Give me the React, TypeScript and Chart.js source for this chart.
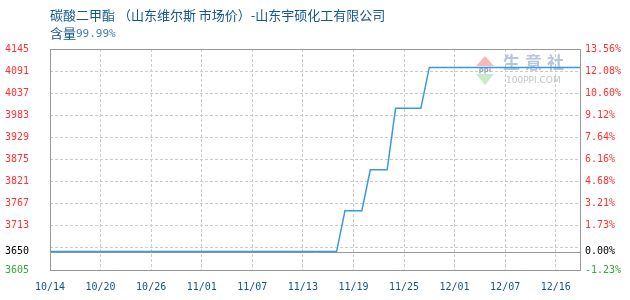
import React, { useEffect, useRef } from "react";
import { Chart, registerables } from "chart.js";

Chart.register(...registerables);

// Trading dates (category axis; some December days have no quote)
const dates: string[] = [
  "10/14", "10/15", "10/16", "10/17", "10/18", "10/19", "10/20", "10/21", "10/22", "10/23",
  "10/24", "10/25", "10/26", "10/27", "10/28", "10/29", "10/30", "10/31",
  "11/01", "11/02", "11/03", "11/04", "11/05", "11/06", "11/07", "11/08", "11/09", "11/10",
  "11/11", "11/12", "11/13", "11/14", "11/15", "11/16", "11/17", "11/18", "11/19", "11/20",
  "11/21", "11/22", "11/23", "11/24", "11/25", "11/26", "11/27", "11/28", "11/29", "11/30",
  "12/01", "12/02", "12/03", "12/04", "12/05", "12/06", "12/07", "12/08", "12/09", "12/12",
  "12/13", "12/14", "12/16", "12/17", "12/18", "12/19",
];

// Market price, yuan/ton
const prices: number[] = [
  3650, 3650, 3650, 3650, 3650, 3650, 3650, 3650, 3650, 3650,
  3650, 3650, 3650, 3650, 3650, 3650, 3650, 3650,
  3650, 3650, 3650, 3650, 3650, 3650, 3650, 3650, 3650, 3650,
  3650, 3650, 3650, 3650, 3650, 3650, 3650, 3750, 3750, 3750,
  3850, 3850, 3850, 4000, 4000, 4000, 4000, 4100, 4100, 4100,
  4100, 4100, 4100, 4100, 4100, 4100, 4100, 4100, 4100, 4100,
  4100, 4100, 4100, 4100, 4100, 4100,
];

// Price axis
const basePrice = 3650;
const yMin = 3605;
const yMax = 4145;
const priceTicks: number[] = [3605, 3650, 3713, 3767, 3821, 3875, 3929, 3983, 4037, 4091, 4145];
const gridOnlyTicks: number[] = [3659];
const labelEvery = 6;

const titleMain = "碳酸二甲酯 （山东维尔斯 市场价）-山东宇硕化工有限公司";
const titleSubLabel = "含量";
const titleSubValue = "99.99%";

const MONO = "'DejaVu Sans Mono', 'Liberation Mono', monospace";
const CJK = "'Noto Sans CJK SC', sans-serif";
const RED = "#ff3333";
const GREEN = "#33aa33";
const BLUE_TEXT = "#11578b";
const FRAME = "#999999";
const GRID = "#cccccc";

const tickColor = (v: number) => (v > basePrice ? RED : v < basePrice ? GREEN : "#000000");
const pct = (v: number) => (((v - basePrice) / basePrice) * 100).toFixed(2) + "%";

const allPriceTicks = () =>
  [...priceTicks, ...gridOnlyTicks].sort((a, b) => a - b).map((value) => ({ value }));

const decorPlugin = {
  id: "decor",
  beforeDatasetsDraw(chart: any) {
    const { ctx, chartArea, scales } = chart;
    ctx.save();
    // base price reference line
    const yb = Math.round(scales.y.getPixelForValue(basePrice)) + 0.5;
    ctx.strokeStyle = FRAME;
    ctx.lineWidth = 1;
    ctx.beginPath();
    ctx.moveTo(chartArea.left, yb);
    ctx.lineTo(chartArea.right, yb);
    ctx.stroke();

    // watermark logo
    const ox = chartArea.right - 105;
    const oy = chartArea.top;
    ctx.fillStyle = "#f6b8b8";
    ctx.beginPath();
    ctx.moveTo(ox + 9, oy + 7);
    ctx.lineTo(ox, oy + 17);
    ctx.lineTo(ox + 18, oy + 17);
    ctx.closePath();
    ctx.fill();
    ctx.fillStyle = "#c8eac8";
    ctx.beginPath();
    ctx.moveTo(ox, oy + 25);
    ctx.lineTo(ox + 18, oy + 25);
    ctx.lineTo(ox + 9, oy + 36);
    ctx.closePath();
    ctx.fill();
    ctx.fillStyle = "#8fa0c0";
    ctx.font = "bold 7px 'DejaVu Sans', sans-serif";
    ctx.textAlign = "center";
    ctx.textBaseline = "middle";
    ctx.fillText("ppi", ox + 9, oy + 21);
    ctx.fillStyle = "#b9c5dc";
    ctx.font = "bold 17px " + CJK;
    ctx.textAlign = "left";
    (ctx as any).letterSpacing = "5px";
    ctx.fillText("生意社", ox + 27, oy + 14);
    (ctx as any).letterSpacing = "0px";
    ctx.fillStyle = "#c4c4c4";
    ctx.font = "9px 'DejaVu Sans', sans-serif";
    ctx.fillText("100PPI.COM", ox + 30, oy + 32);
    ctx.restore();
  },
  afterDraw(chart: any) {
    const { ctx, chartArea } = chart;
    ctx.save();
    ctx.strokeStyle = FRAME;
    ctx.lineWidth = 1;
    ctx.strokeRect(
      Math.round(chartArea.left) + 0.5,
      Math.round(chartArea.top) + 0.5,
      Math.round(chartArea.right - chartArea.left) - 1,
      Math.round(chartArea.bottom - chartArea.top)
    );
    // title
    ctx.textBaseline = "middle";
    ctx.textAlign = "left";
    ctx.fillStyle = BLUE_TEXT;
    ctx.font = "13px " + CJK;
    ctx.fillText(titleMain, chartArea.left, 15);
    ctx.fillText(titleSubLabel, chartArea.left, 33);
    const w = ctx.measureText(titleSubLabel).width;
    ctx.fillStyle = "#3f7fb3";
    ctx.font = "11px " + MONO;
    ctx.fillText(titleSubValue, chartArea.left + w, 34);
    ctx.restore();
  },
};

export default function App() {
  const canvasRef = useRef<HTMLCanvasElement | null>(null);

  useEffect(() => {
    document.body.style.margin = "0";
    const canvas = canvasRef.current;
    if (!canvas) return;
    const chart = new Chart(canvas, {
      type: "line",
      data: {
        labels: dates,
        datasets: [
          {
            data: prices,
            borderColor: "#3a9ad9",
            borderWidth: 1.5,
            pointRadius: 0,
            tension: 0,
            fill: false,
            yAxisID: "y",
          },
        ],
      },
      options: {
        animation: false,
        responsive: false,
        events: [],
        layout: { padding: { top: 49, left: 0, right: 0, bottom: 0 } },
        plugins: { legend: { display: false }, tooltip: { enabled: false }, title: { display: false } },
        scales: {
          x: {
            type: "category",
            offset: false,
            border: { display: false, dash: [3, 2] },
            grid: { color: GRID, drawTicks: false },
            afterBuildTicks(scale: any) {
              scale.ticks = scale.ticks.filter((t: any) => t.value % labelEvery === 0);
            },
            afterFit(scale: any) {
              scale.height = 30;
            },
            ticks: {
              autoSkip: false,
              maxRotation: 0,
              padding: 11,
              color: BLUE_TEXT,
              font: { family: MONO, size: 10 },
            },
          },
          y: {
            position: "left",
            min: yMin,
            max: yMax,
            border: { display: false, dash: [3, 2] },
            grid: {
              drawTicks: false,
              color: (c: any) => (c.tick && c.tick.value === basePrice ? "rgba(0,0,0,0)" : GRID),
            },
            afterBuildTicks(scale: any) {
              scale.ticks = allPriceTicks();
            },
            afterFit(scale: any) {
              scale.width = 50;
            },
            ticks: {
              padding: 21,
              font: { family: MONO, size: 10 },
              color: (c: any) => tickColor(c.tick.value),
              callback: (v: any) => (priceTicks.includes(Number(v)) ? String(v) : ""),
            },
          },
          y1: {
            position: "right",
            min: yMin,
            max: yMax,
            border: { display: false },
            grid: { display: false, drawTicks: false },
            afterBuildTicks(scale: any) {
              scale.ticks = allPriceTicks();
            },
            afterFit(scale: any) {
              scale.width = 49;
            },
            ticks: {
              padding: 4,
              font: { family: MONO, size: 10 },
              color: (c: any) => tickColor(c.tick.value),
              callback: (v: any) => (priceTicks.includes(Number(v)) ? pct(Number(v)) : ""),
            },
          },
        },
      },
      plugins: [decorPlugin],
    });
    return () => chart.destroy();
  }, []);

  return (
    <div style={{ width: 630, height: 300, background: "#ffffff" }}>
      <canvas ref={canvasRef} width={630} height={300} style={{ display: "block" }} />
    </div>
  );
}
